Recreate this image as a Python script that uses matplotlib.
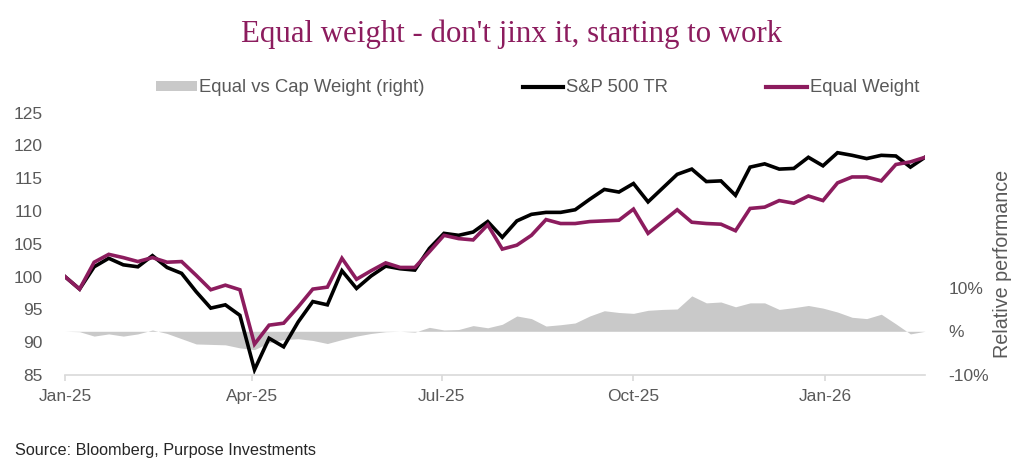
import numpy as np
import pandas as pd
import matplotlib
matplotlib.use('Agg')
import matplotlib.pyplot as plt
import matplotlib.dates as mdates
from matplotlib.patches import Patch
from matplotlib.lines import Line2D

plt.rcParams['font.family'] = ['Liberation Sans', 'DejaVu Sans']

# weekly observations, Jan-2025 .. Feb-2026
dates = pd.date_range('2025-01-01', periods=60, freq='7D')

sp500_tr = [100.0, 98.1, 101.5, 102.8, 101.8, 101.5, 103.2, 101.4, 100.5, 97.7,
            95.2, 95.7, 94.1, 85.8, 90.6, 89.3, 93.1, 96.2, 95.7, 100.9,
            98.2, 100.1, 101.6, 101.2, 101.0, 104.3, 106.6, 106.3, 106.8, 108.4,
            106.0, 108.5, 109.5, 109.8, 109.8, 110.2, 111.8, 113.3, 112.9, 114.2,
            111.4, 113.5, 115.6, 116.4, 114.5, 114.6, 112.4, 116.7, 117.2, 116.4,
            116.5, 118.2, 116.9, 118.9, 118.5, 118.0, 118.5, 118.4, 116.7, 118.2]

equal_wt = [100.0, 98.1, 102.2, 103.4, 102.9, 102.3, 102.9, 102.2, 102.3, 100.2,
            98.0, 98.7, 98.0, 89.7, 92.6, 92.9, 95.4, 98.1, 98.4, 102.8,
            99.6, 100.9, 102.1, 101.4, 101.4, 103.8, 106.3, 105.8, 105.6, 107.9,
            104.2, 104.8, 106.3, 108.7, 108.1, 108.1, 108.4, 108.5, 108.6, 110.3,
            106.6, 108.4, 110.2, 108.3, 108.1, 108.0, 107.0, 110.4, 110.6, 111.6,
            111.2, 112.3, 111.6, 114.3, 115.2, 115.2, 114.6, 117.1, 117.5, 118.2]

# relative performance (%), right axis
rel_perf = [0.0, -0.1, -1.1, -0.6, -1.1, -0.6, 0.3, -0.5, -1.7, -2.9,
            -3.0, -3.1, -3.8, -4.2, -2.6, -1.9, -1.7, -2.1, -2.8, -1.9,
            -1.1, -0.5, -0.1, 0.0, -0.2, 0.9, 0.3, 0.4, 1.3, 0.8,
            1.6, 3.5, 2.9, 1.2, 1.5, 1.9, 3.5, 4.7, 4.3, 4.1,
            4.8, 5.0, 5.1, 8.1, 6.5, 6.7, 5.6, 6.5, 6.5, 5.0,
            5.4, 5.9, 5.3, 4.4, 3.2, 2.9, 3.9, 1.7, -0.6, 0.0]

purple = '#8C1C5E'
grey_fill = '#C9C9C9'
txt_grey = '#595959'
axis_grey = '#D9D9D9'

fig = plt.figure(figsize=(10.24, 4.72), dpi=100)
ax = fig.add_axes([65/1024, 1-375/472, 860/1024, (375-112.7)/472])
ax2 = ax.twinx()

ax2.fill_between(dates, 0, rel_perf, color=grey_fill, linewidth=0)
ax2.set_ylim(-10, 50)
ax2.set_yticks([-10, 0, 10])
ax2.set_yticklabels(['-10%', '%', '10%'])

ax.plot(dates, sp500_tr, color='black', lw=2.6, solid_joinstyle='miter')
ax.plot(dates, equal_wt, color=purple, lw=2.6, solid_joinstyle='miter')
ax.set_ylim(85, 125)
ax.set_yticks(range(85, 126, 5))
ax.set_xlim(dates[0], dates[-1])

ax.set_zorder(ax2.get_zorder() + 1)
ax.patch.set_visible(False)

xt = pd.to_datetime(['2025-01-01', '2025-04-01', '2025-07-01', '2025-10-01', '2026-01-01'])
ax.set_xticks(xt)
ax.xaxis.set_major_formatter(mdates.DateFormatter('%b-%y'))

for a in (ax, ax2):
    for s in a.spines.values():
        s.set_visible(False)
ax.spines['bottom'].set_visible(True)
ax.spines['bottom'].set_color(axis_grey)
ax.spines['bottom'].set_linewidth(1.2)

ax.tick_params(axis='x', colors=axis_grey, labelcolor=txt_grey, length=4, width=1.2,
               labelsize=12.5, pad=6)
ax.tick_params(axis='y', length=0, labelcolor=txt_grey, labelsize=12.5, pad=16)
ax2.tick_params(axis='y', length=0, labelcolor=txt_grey, labelsize=12.5, pad=17)

fig.text(1003/1024, 1-264/472, 'Relative performance', rotation=90, ha='center', va='center',
         color=txt_grey, fontsize=14.2)

fig.text(512/1024, 1-34/472, "Equal weight - don't jinx it, starting to work", ha='center', va='center',
         color=purple, fontsize=22.2, family=['Liberation Serif', 'DejaVu Serif'])

handles = [Patch(facecolor=grey_fill, edgecolor='none'),
           Line2D([], [], color='black', lw=3),
           Line2D([], [], color=purple, lw=3)]
labels = ['Equal vs Cap Weight (right)', 'S&P 500 TR', 'Equal Weight']
fig.legend(handles, labels, loc='center', bbox_to_anchor=(537.5/1024, 1-88/472), ncol=3,
           frameon=False, fontsize=13.3, labelcolor=txt_grey, handlelength=2.2,
           handleheight=0.5, handletextpad=0.15, columnspacing=5.3)

fig.text(15/1024, 1-451/472, 'Source: Bloomberg, Purpose Investments', ha='left', va='center',
         color='#262626', fontsize=11.7)

fig.savefig('out.png', dpi=100)
